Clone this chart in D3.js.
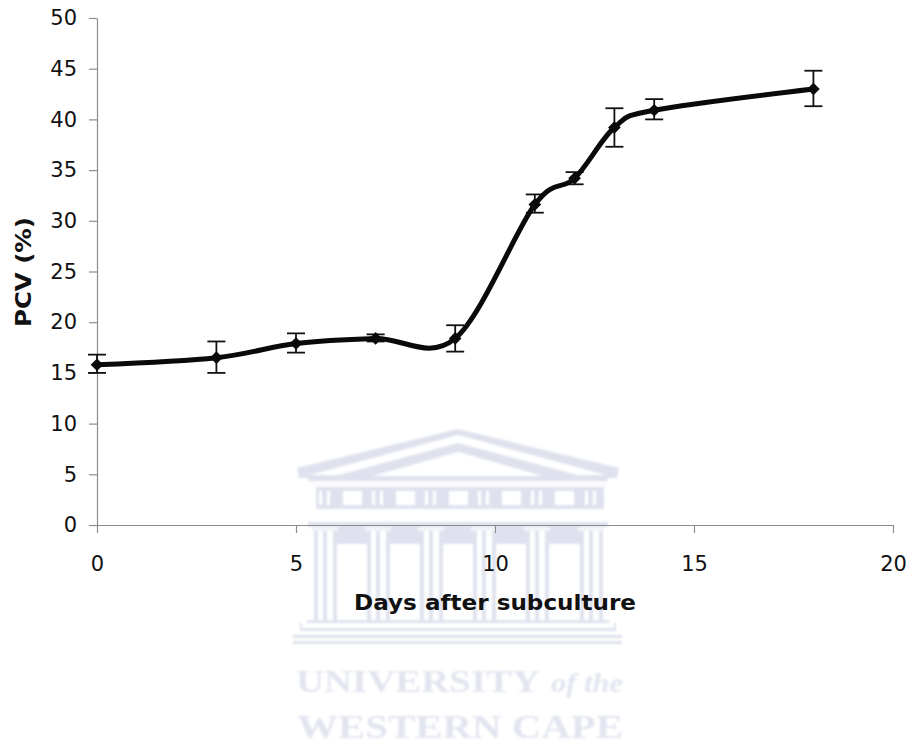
<!DOCTYPE html>
<html>
<head>
<meta charset="utf-8">
<script src="https://cdn.jsdelivr.net/npm/d3@7"></script>
<style>
    html, body { margin: 0; padding: 0; background: #fff; }
    svg { display: block; }
    .axis text { font-family: "DejaVu Sans", sans-serif; font-size: 21px; fill: #111; }
    .axis line, .axis path { stroke: #8c8c8c; stroke-width: 1.2; }
    .title { font-family: "DejaVu Sans", sans-serif; font-size: 20.5px; font-weight: bold; fill: #111; }
</style>
</head>
<body>
<div id="chart"></div>
<script>
// values
const days = [0, 3, 5, 7, 9, 11, 12, 13, 14, 18];
const pcv = [15.8, 16.5, 17.9, 18.4, 18.4, 31.6, 34.2, 39.2, 40.9, 43];
const errLow = [15, 15, 17, 18.1, 17.1, 30.8, 33.6, 37.3, 40, 41.3];
const errHigh = [16.8, 18.1, 18.9, 18.8, 19.7, 32.6, 34.8, 41.1, 42, 44.8];
const xTicks = [0, 5, 10, 15, 20];
const yTicks = [0, 5, 10, 15, 20, 25, 30, 35, 40, 45, 50];
const columnCentres = [325, 378, 431, 484, 537, 591];
const friezeBlocks = [343, 396, 449, 502, 555];

const width = 910, height = 746;
const margin = {top: 18, right: 17, bottom: 221, left: 97};
const innerWidth = width - margin.left - margin.right;
const innerHeight = height - margin.top - margin.bottom;

const svg = d3.select('#chart').append('svg')
    .attr('width', width)
    .attr('height', height);

// University crest sits behind the chart
drawWatermark(svg);

const xScale = d3.scaleLinear().domain([0, 20]).range([0, innerWidth]);
const yScale = d3.scaleLinear().domain([0, 50]).range([innerHeight, 0]);

const chart = svg.append('g')
    .attr('transform', `translate(${margin.left},${margin.top})`);

const xAxis = d3.axisBottom(xScale).tickValues(xTicks).tickSize(8).tickPadding(23).tickSizeOuter(0);
const yAxis = d3.axisLeft(yScale).tickValues(yTicks).tickSize(8).tickPadding(12).tickSizeOuter(0);

chart.append('g')
    .attr('class', 'axis')
    .attr('transform', `translate(0,${innerHeight})`)
    .call(xAxis);
chart.append('g')
    .attr('class', 'axis')
    .call(yAxis);

const rows = days.map((d, i) => ({day: d, value: pcv[i], low: errLow[i], high: errHigh[i]}));

// Error bars
const bars = chart.selectAll('.err')
    .data(rows)
    .enter().append('g')
    .attr('class', 'err')
    .attr('stroke', '#111')
    .attr('stroke-width', 1.8);
bars.append('line')
    .attr('x1', d => xScale(d.day)).attr('x2', d => xScale(d.day))
    .attr('y1', d => yScale(d.low)).attr('y2', d => yScale(d.high));
bars.append('line')
    .attr('x1', d => xScale(d.day) - 9).attr('x2', d => xScale(d.day) + 9)
    .attr('y1', d => yScale(d.low)).attr('y2', d => yScale(d.low));
bars.append('line')
    .attr('x1', d => xScale(d.day) - 9).attr('x2', d => xScale(d.day) + 9)
    .attr('y1', d => yScale(d.high)).attr('y2', d => yScale(d.high));

// Smoothed line, same look as a spreadsheet smooth line
const line = d3.line()
    .x(d => xScale(d.day))
    .y(d => yScale(d.value))
    .curve(d3.curveCardinal.tension(0));

chart.append('path')
    .datum(rows)
    .attr('d', line)
    .attr('fill', 'none')
    .attr('stroke', '#0a0a0a')
    .attr('stroke-width', 5);

chart.selectAll('.marker')
    .data(rows)
    .enter().append('path')
    .attr('class', 'marker')
    .attr('d', d3.symbol().type(d3.symbolSquare).size(80))
    .attr('fill', '#0a0a0a')
    .attr('transform', d => `translate(${xScale(d.day)},${yScale(d.value)}) rotate(45)`);

svg.append('text')
    .attr('class', 'title')
    .attr('x', 354).attr('y', 610)
    .attr('textLength', 282).attr('lengthAdjust', 'spacingAndGlyphs')
    .text('Days after subculture');

svg.append('text')
    .attr('class', 'title')
    .attr('transform', 'translate(31,327) rotate(-90)')
    .attr('textLength', 110).attr('lengthAdjust', 'spacingAndGlyphs')
    .text('PCV (%)');

function drawWatermark(parent) {
    const pale = '#dfe2ee', faint = '#e2e5f0';

    // the crest is soft in the scan, a small blur gets close
    parent.append('defs').append('filter')
        .attr('id', 'soft')
        .append('feGaussianBlur')
        .attr('stdDeviation', 0.8);

    const g = parent.append('g').attr('filter', 'url(#soft)');

    const poly = (d, fill) => g.append('path').attr('d', d).attr('fill', fill);
    const box = (x, y, w, h, fill) => g.append('rect')
        .attr('x', x).attr('y', y).attr('width', w).attr('height', h).attr('fill', fill);

    // pediment, nested bands
    poly('M458,429 L297,468 L299,478 L617,478 L619,468 Z', pale);
    poly('M458,435 L310,475 L606,475 Z', '#fff');
    poly('M458,443 L335,476 L581,476 Z', pale);
    poly('M458,452 L373,476 L543,476 Z', '#fff');

    // entablature
    box(308, 478, 300, 3, pale);
    box(310, 481, 297, 6, '#fbfbfd');
    box(316, 487, 288, 22, pale);
    friezeBlocks.forEach(x => box(x, 491, 19, 14, '#fff'));
    columnCentres.forEach(x => {
        box(x - 6, 491, 3, 14, '#fff');
        box(x + 2, 491, 3, 14, '#fff');
    });
    box(318, 509, 284, 13, '#fff');
    box(308, 522, 300, 5, pale);

    // shaded band between the columns
    box(317, 527, 286, 17, pale);

    // columns
    columnCentres.forEach(x => {
        box(x - 11, 531, 22, 89, '#fff');
        box(x - 13, 527, 26, 4, '#f3f4f9');
        [-11, -2, 8].forEach(dx => box(x + dx, 531, 4, 89, pale));
    });

    // steps
    box(307, 620, 302, 3, pale);
    box(300, 628, 316, 3, pale);
    box(293, 635, 329, 3, pale);
    box(293, 641, 329, 3, pale);
    box(300, 623, 2, 6, pale);
    box(614, 623, 2, 6, pale);

    // name
    const serifText = (x, y, len, size, label) => g.append('text')
        .attr('x', x).attr('y', y)
        .attr('textLength', len).attr('lengthAdjust', 'spacingAndGlyphs')
        .attr('font-family', '"Liberation Serif", serif').attr('font-weight', 'bold')
        .attr('font-size', size).attr('fill', faint)
        .text(label);
    serifText(296, 692, 244, 32, 'UNIVERSITY');
    serifText(551, 692, 72, 27, 'of the').attr('font-style', 'italic');
    serifText(297, 738, 326, 33, 'WESTERN CAPE');
}
</script>
</body>
</html>
